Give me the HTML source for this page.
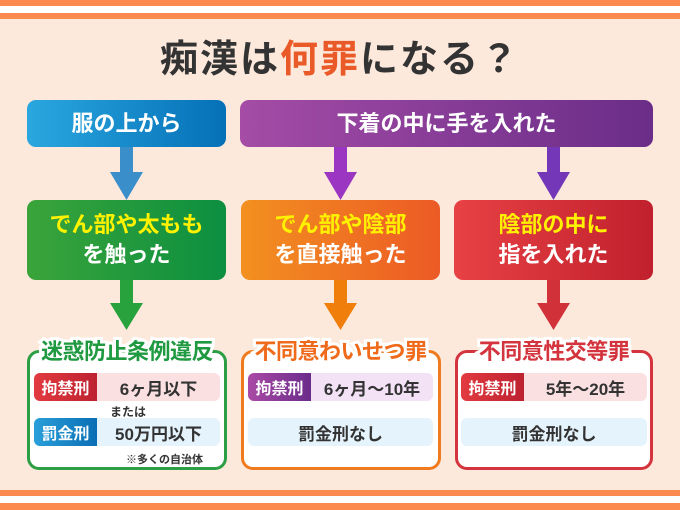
<!DOCTYPE html>
<html><head><meta charset="utf-8"><style>
*{margin:0;padding:0;box-sizing:border-box}
body{width:680px;height:510px;background:#fde9dc;position:relative;overflow:hidden;font-family:"Liberation Sans","Noto Sans CJK JP",sans-serif;font-weight:bold}
.a{position:absolute}
.st{left:0;width:680px;height:6px;background:#fc8a4f}
.box{position:absolute;border-radius:9px;color:#fff;text-align:center;display:flex;align-items:center;justify-content:center;flex-direction:column}
.t1{font-size:22px;line-height:30px}
.y{color:#fff200}
.res{position:absolute;top:350px;height:120px;width:200px;background:#fff;border:3px solid;border-radius:12px}
.lab{position:absolute;top:338px;text-align:center;font-size:22px;line-height:28px;letter-spacing:-0.5px;-webkit-text-stroke:6px #fff;paint-order:stroke fill}
.row{position:absolute;height:28px;border-radius:6px;display:flex;align-items:center;font-size:17px;color:#333}
.bd{height:28px;width:63px;border-radius:6px 0 0 6px;color:#fff;display:flex;align-items:center;justify-content:center;font-size:16px}
.rt{flex:1;text-align:center}
.sm{position:absolute;font-size:12px;color:#333}
</style></head><body>
<div class="a st" style="top:0"></div><div class="a" style="top:6px;left:0;width:680px;height:7px;background:#fff"></div><div class="a st" style="top:13px"></div>
<div class="a st" style="top:490px"></div><div class="a" style="top:496px;left:0;width:680px;height:7px;background:#fff"></div><div class="a st" style="top:503px;height:7px"></div>

<div class="a" style="left:0;width:680px;top:37px;text-align:center;font-size:38px;line-height:46px;letter-spacing:2px;color:#333">痴漢は<span style="color:#ea5a28">何罪</span>になる？</div>

<div class="box t1" style="left:27px;top:100px;width:199px;height:47px;background:linear-gradient(90deg,#2aa7df,#0570b7)">服の上から</div>
<div class="box t1" style="left:240px;top:100px;width:413px;height:47px;background:linear-gradient(90deg,#a44ca6,#6a2d88)">下着の中に手を入れた</div>

<svg class="a" style="left:0;top:0" width="680" height="510">
<g fill="#3a8fcb"><rect x="120" y="147" width="13" height="26"/><polygon points="110,172 143,172 126.5,200"/></g>
<g fill="#9a36c2"><rect x="334" y="147" width="13" height="26"/><polygon points="324,172 357,172 340.5,200"/></g>
<g fill="#7437b8"><rect x="547" y="147" width="13" height="26"/><polygon points="537,172 570,172 553.5,200"/></g>
<g fill="#27a23c"><rect x="120" y="280" width="13" height="24"/><polygon points="110,303 143,303 126.5,330"/></g>
<g fill="#ef7f0a"><rect x="334" y="280" width="13" height="24"/><polygon points="324,303 357,303 340.5,330"/></g>
<g fill="#d1323a"><rect x="547" y="280" width="13" height="24"/><polygon points="537,303 570,303 553.5,330"/></g>
</svg>

<div class="box t1" style="left:27px;top:200px;width:199px;height:80px;background:linear-gradient(90deg,#3aa43a,#0c8f40)"><div class="y">でん部や太もも</div><div>を触った</div></div>
<div class="box t1" style="left:241px;top:200px;width:199px;height:80px;background:linear-gradient(90deg,#f39020,#ec5a25)"><div class="y">でん部や陰部</div><div>を直接触った</div></div>
<div class="box t1" style="left:454px;top:200px;width:199px;height:80px;background:linear-gradient(90deg,#e84144,#c0202d)"><div class="y">陰部の中に</div><div>指を入れた</div></div>

<div class="res" style="left:27px;border-color:#2c9f45"></div>
<div class="res" style="left:241px;border-color:#f07a1e"></div>
<div class="res" style="left:455px;width:198px;border-color:#d3343d"></div>
<div class="lab" style="left:27px;width:200px;color:#1f9a40">迷惑防止条例違反</div>
<div class="lab" style="left:241px;width:199px;color:#ef6a1a">不同意わいせつ罪</div>
<div class="lab" style="left:455px;width:198px;color:#d3343d">不同意性交等罪</div>

<div class="row" style="left:34px;top:373px;width:186px;background:#fbe0e2"><div class="bd" style="background:linear-gradient(90deg,#e23a40,#bd2230)">拘禁刑</div><div class="rt">6ヶ月以下</div></div>
<div class="sm" style="left:110px;top:403px">または</div>
<div class="row" style="left:34px;top:418px;width:186px;background:#e4f3fc"><div class="bd" style="background:linear-gradient(90deg,#2a9fd9,#0a6eb5)">罰金刑</div><div class="rt">50万円以下</div></div>
<div class="sm" style="left:126px;top:451px;font-size:11px">※多くの自治体</div>

<div class="row" style="left:248px;top:373px;width:185px;background:#f3e2f6"><div class="bd" style="background:linear-gradient(90deg,#a94aa6,#6b2c8a)">拘禁刑</div><div class="rt">6ヶ月〜10年</div></div>
<div class="row" style="left:248px;top:418px;width:185px;background:#e4f3fc;justify-content:center">罰金刑なし</div>

<div class="row" style="left:461px;top:373px;width:186px;background:#fbe0e2"><div class="bd" style="background:linear-gradient(90deg,#e23a40,#bd2230)">拘禁刑</div><div class="rt">5年〜20年</div></div>
<div class="row" style="left:461px;top:418px;width:186px;background:#e4f3fc;justify-content:center">罰金刑なし</div>
</body></html>
